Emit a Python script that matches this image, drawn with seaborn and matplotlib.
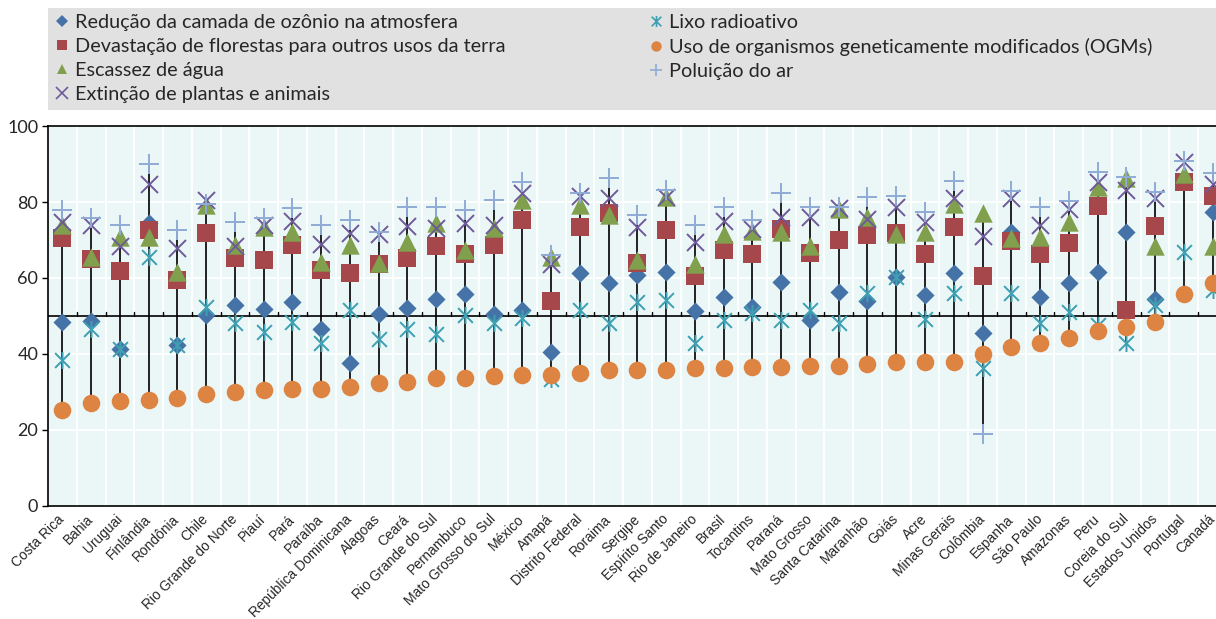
import matplotlib
matplotlib.use("Agg")
import matplotlib.pyplot as plt
import matplotlib.transforms as mtransforms
from matplotlib.path import Path
from matplotlib.lines import Line2D
from matplotlib.patches import Rectangle
import numpy as np
import pandas as pd
import seaborn as sns

categories = ["Costa Rica", "Bahia", "Uruguai", "Finlândia", "Rondônia", "Chile",
              "Rio Grande do Norte", "Piauí", "Pará", "Paraíba", "República Dominicana",
              "Alagoas", "Ceará", "Rio Grande do Sul", "Pernambuco", "Mato Grosso do Sul",
              "México", "Amapá", "Distrito Federal", "Roraima", "Sergipe", "Espírito Santo",
              "Rio de Janeiro", "Brasil", "Tocantins", "Paraná", "Mato Grosso",
              "Santa Catarina", "Maranhão", "Goiás", "Acre", "Minas Gerais", "Colômbia",
              "Espanha", "São Paulo", "Amazonas", "Peru", "Coreia do Sul",
              "Estados Unidos", "Portugal", "Canadá"]

ozonio = [48.5, 48.8, 41.3, 74.4, 42.4, 50.3, 52.9, 51.8, 53.8, 46.5, 37.7, 50.4, 52.2,
          54.6, 55.7, 50.5, 51.7, 40.6, 61.4, 58.6, 60.8, 61.7, 51.3, 54.9, 52.3, 59.0,
          48.9, 56.4, 53.9, 60.3, 55.5, 61.2, 45.6, 72.2, 55.1, 58.8, 61.7, 72.2, 54.6,
          86.0, 77.4]
florestas = [70.4, 65.0, 61.8, 72.6, 59.6, 71.9, 65.2, 64.7, 68.7, 62.1, 61.2, 63.8, 65.2,
             68.4, 66.2, 68.7, 75.3, 54.0, 73.5, 77.0, 64.0, 72.6, 60.6, 67.5, 66.3, 72.9,
             66.5, 70.0, 71.3, 71.9, 66.3, 73.5, 60.6, 69.8, 66.3, 69.1, 78.9, 51.7, 73.7,
             85.3, 81.6]
agua = [74.0, 65.6, 70.9, 70.7, 61.7, 79.2, 68.7, 73.5, 72.2, 64.3, 68.7, 64.0, 69.6,
        74.6, 67.5, 73.1, 80.5, 65.6, 79.2, 76.5, 64.7, 81.2, 63.8, 71.7, 72.4, 72.2,
        68.4, 78.1, 76.0, 71.7, 72.2, 79.6, 77.0, 70.4, 70.9, 74.8, 84.0, 86.2, 68.4,
        87.5, 68.4]
extincao = [74.8, 73.9, 68.4, 84.7, 67.8, 80.5, 68.4, 73.9, 75.1, 68.9, 71.9, 71.6, 73.7,
            73.1, 74.4, 73.9, 82.3, 63.7, 81.6, 81.0, 73.3, 81.2, 69.5, 75.0, 72.8, 76.0,
            76.1, 78.3, 75.4, 78.6, 74.8, 81.0, 71.0, 81.0, 73.9, 78.1, 85.3, 83.1, 81.0,
            90.6, 84.7]
lixo = [38.4, 46.7, 41.3, 65.6, 42.4, 52.4, 48.1, 45.9, 48.3, 42.8, 51.6, 44.0, 46.5,
        45.2, 50.3, 48.2, 49.4, 33.3, 51.7, 48.2, 53.8, 54.2, 42.8, 48.9, 50.7, 48.9,
        51.7, 48.1, 56.1, 60.3, 49.1, 56.1, 36.2, 56.1, 48.1, 51.1, 47.6, 42.8, 52.9,
        66.9, 56.8]
ogm = [25.2, 27.2, 27.7, 27.9, 28.3, 29.5, 30.0, 30.5, 30.7, 30.7, 31.4, 32.3, 32.7,
       33.8, 33.8, 34.2, 34.5, 34.5, 35.1, 35.8, 35.8, 35.9, 36.4, 36.4, 36.5, 36.6,
       36.8, 36.9, 37.3, 38.0, 38.0, 38.0, 40.0, 41.9, 42.8, 44.3, 46.0, 47.0, 48.5,
       55.7, 58.8]
ar = [77.9, 75.7, 73.9, 90.0, 72.6, 79.6, 74.8, 75.7, 78.5, 73.9, 75.3, 72.2, 78.8,
      78.8, 77.9, 80.5, 85.3, 66.0, 82.3, 86.2, 76.6, 83.1, 73.9, 78.8, 75.3, 82.4,
      78.8, 78.6, 81.2, 81.6, 77.4, 85.6, 18.9, 83.0, 78.6, 80.3, 88.0, 86.7, 82.7,
      90.9, 87.7]

labels = ["Redução da camada de ozônio na atmosfera",
          "Devastação de florestas para outros usos da terra",
          "Escassez de água",
          "Extinção de plantas e animais",
          "Lixo radioativo",
          "Uso de organismos geneticamente modificados (OGMs)",
          "Poluição do ar"]

series_values = [ozonio, florestas, agua, extincao, lixo, ogm, ar]

asterisk = Path([(-1, -1), (1, 1), (-1, 1), (1, -1), (0, -1.15), (0, 1.15)],
                [Path.MOVETO, Path.LINETO] * 3)

styles = [
    dict(marker="D", color="#4573a7", s=85, filled=True),
    dict(marker="s", color="#a5474b", s=150, filled=True),
    dict(marker="^", color="#80a04d", s=175, filled=True),
    dict(marker="x", color="#6e5a98", s=150, filled=False),
    dict(marker=asterisk, color="#3ea0b2", s=150, filled=False),
    dict(marker="o", color="#dd8443", s=160, filled=True),
    dict(marker="+", color="#8fabd6", s=190, filled=False),
]

sns.set_theme(style="white")
plt.rcParams["font.family"] = ["Lato", "DejaVu Sans"]

W, H = 1216, 619
fig = plt.figure(figsize=(W / 100, H / 100), dpi=100)
ax = fig.add_axes([48 / W, (H - 506) / H, (W - 48) / W, 380 / H])
ax.set_facecolor("#ebf6f7")

df = pd.DataFrame({"categoria": categories})
for lab, vals in zip(labels, series_values):
    df[lab] = vals
long = df.melt(id_vars="categoria", var_name="serie", value_name="valor")

# range lines
rng = long.groupby("categoria", sort=False)["valor"].agg(["min", "max"]).reindex(categories)
xpos = np.arange(len(categories))
ax.vlines(xpos, rng["min"], rng["max"], color="#222222", lw=1.4, zorder=2)

for lab, st in zip(labels, styles):
    sub = long[long["serie"] == lab]
    if st["filled"]:
        sns.scatterplot(data=sub, x="categoria", y="valor", marker=st["marker"],
                        color=st["color"], s=st["s"], linewidth=0, ax=ax, zorder=3,
                        legend=False)
    else:
        sns.scatterplot(data=sub, x="categoria", y="valor", marker=st["marker"],
                        color=st["color"], edgecolor=st["color"], s=st["s"],
                        linewidth=1.4, ax=ax, zorder=3, legend=False)

ax.set_xlim(-0.5, 40.12)
ax.set_ylim(0, 100)
ax.set_yticks([0, 20, 40, 60, 80, 100])
ax.set_xticks(xpos)
ax.set_xticklabels(categories, rotation=45, ha="right", va="center",
                   rotation_mode="anchor", fontsize=9.9,
                   family=["Liberation Sans", "DejaVu Sans"])
shift = mtransforms.ScaledTranslation(-2 / 72, 0, fig.dpi_scale_trans)
for t in ax.get_xticklabels():
    t.set_transform(t.get_transform() + shift)
ax.set_xlabel("")
ax.set_ylabel("")
ax.tick_params(axis="y", labelsize=13, length=4, width=1, color="black", direction="out",
               pad=3, left=True)
ax.tick_params(axis="x", length=0, pad=8)

for yv in [20, 40, 60, 80]:
    ax.axhline(yv, color="white", lw=1.3, zorder=1)
for xv in np.arange(0.5, len(categories) - 0.5, 1.0):
    ax.axvline(xv, color="white", lw=1.3, zorder=1)
    ax.plot([xv, xv], [50, 51.0], color="black", lw=1, zorder=2)
ax.axhline(50, color="black", lw=1.2, zorder=2)

for side in ["left", "bottom", "top"]:
    ax.spines[side].set_visible(True)
    ax.spines[side].set_color("black")
    ax.spines[side].set_linewidth(1.2)
ax.spines["right"].set_visible(False)

# legend background band
fig.patches.append(Rectangle((48 / W, (H - 110) / H), (W - 48) / W, 102 / H,
                             transform=fig.transFigure, facecolor="#e1e1e1",
                             edgecolor="none", zorder=0))

handles = []
for lab, st in zip(labels, styles):
    if st["filled"]:
        h = Line2D([], [], linestyle="none", marker=st["marker"], color=st["color"],
                   markersize=7.5 if st["marker"] != "D" else 6.5, markeredgewidth=0)
    else:
        h = Line2D([], [], linestyle="none", marker=st["marker"], color=st["color"],
                   markersize=8, markeredgewidth=1.2)
    handles.append(h)

leg_kw = dict(loc="upper left", fontsize=14.3, frameon=False, handlelength=0.8,
              handletextpad=0.25, labelspacing=0.36, borderpad=0, borderaxespad=0)
leg1 = fig.legend(handles[:4], labels[:4], bbox_to_anchor=(54 / W, 1 - 14 / H), **leg_kw)
leg2 = fig.legend(handles[4:], labels[4:], bbox_to_anchor=(648 / W, 1 - 14 / H), **leg_kw)

fig.savefig("out.png", dpi=100, facecolor="white")
